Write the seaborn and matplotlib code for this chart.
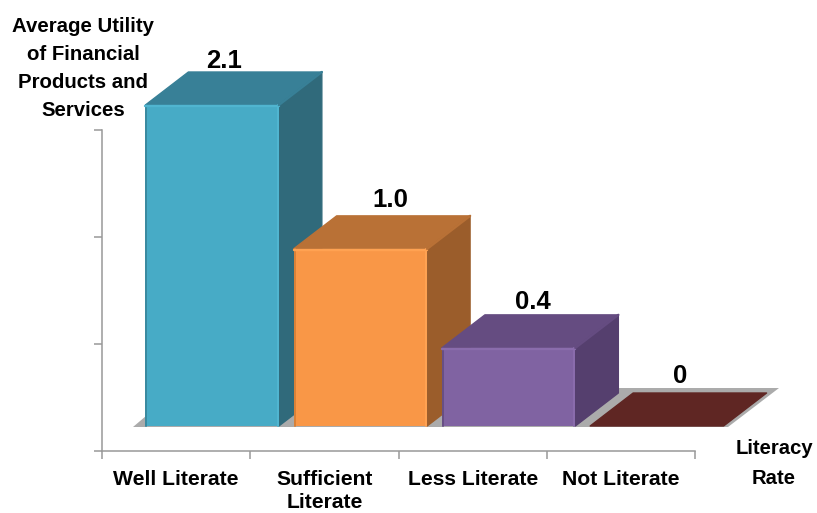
import numpy as np
import pandas as pd
import matplotlib
matplotlib.use("Agg")
import matplotlib.pyplot as plt
from matplotlib.patches import Polygon
from matplotlib.transforms import IdentityTransform
import seaborn as sns

# Chart content
categories = ["Well Literate", "Sufficient\nLiterate", "Less Literate", "Not Literate"]
utility = [2.1, 1.0, 0.4, 0.0]
value_labels = ["2.1", "1.0", "0.4", "0"]

# Face colours of each block
front_colors = ["#47ABC6", "#F99747", "#8063A2", "#5F2623"]
side_colors = ["#306A7B", "#9B5D2B", "#553F6E", "#5F2623"]
top_colors = ["#388097", "#B97136", "#654C81", "#5F2623"]
left_edge = ["#3A8AA0", "#D98138", "#674F85", "#5F2623"]
rim_colors = ["#50B5D0", "#FFA252", "#8A6CAC", "#5F2623"]

W, H = 817, 513
DEPTH_X, DEPTH_Y = 43, 33
FLOOR_DX, FLOOR_DY = 36, 25

sns.set_theme(style="white")
plt.rcParams["font.family"] = ["Liberation Sans", "DejaVu Sans"]
plt.rcParams["font.weight"] = "bold"

fig = plt.figure(figsize=(W / 100, H / 100), dpi=100)
screen = IdentityTransform()


def axes_rect(left, top, right, bottom):
    return [left / W, 1 - bottom / H, (right - left) / W, (bottom - top) / H]


# Frame carrying the grey axis lines, ticks and category names
frame = fig.add_axes(axes_rect(102, 130, 695, 451))
frame.set_xlim(0, 4)
frame.set_ylim(0, 3)
frame.set_yticks(range(4))
frame.set_yticklabels([])
frame.set_xticks(range(5))
frame.set_xticklabels([])
frame.set_xticks(np.arange(4) + 0.5, labels=categories, minor=True)
frame.tick_params(axis="both", which="major", length=6, width=1.1, color="#999999",
                  left=True, bottom=True)
frame.tick_params(axis="x", which="minor", length=0, pad=13.5, labelsize=15.2)
for label in frame.get_xticklabels(minor=True):
    label.set_linespacing(1.3)
    label.set_fontweight("bold")
    label.set_color("black")
sns.despine(ax=frame)
for side in ("left", "bottom"):
    frame.spines[side].set_color("#999999")
    frame.spines[side].set_linewidth(1.1)

# Plotting layer, moved back onto the floor of the 3D scene
bars_ax = fig.add_axes(axes_rect(102 + FLOOR_DX, 130 - FLOOR_DY, 695 + FLOOR_DX, 451 - FLOOR_DY))
table = pd.DataFrame({"category": categories, "utility": utility})
sns.barplot(data=table, x="category", y="utility", hue="category", palette=front_colors,
            width=0.9, saturation=1, legend=False, dodge=False, ax=bars_ax)
bars_ax.set_xlim(-0.5, 3.5)
bars_ax.set_yscale("function", functions=(lambda v: np.log1p(np.maximum(v, 0) / 2.5),
                                          lambda u: 2.5 * np.expm1(u)))
bars_ax.set_ylim(0, 2.1)
bars_ax.set_axis_off()


def add_face(points, color, z):
    bars_ax.add_artist(Polygon(points, closed=True, transform=screen, facecolor=color,
                               edgecolor=color, linewidth=1.0, joinstyle="round",
                               zorder=z, clip_on=False))


# Floor shadow under the row of blocks
floor_y = H - 426
bars_ax.add_artist(Polygon([(133, floor_y - 1), (728, floor_y - 1),
                            (779, floor_y + 38), (179, floor_y + 38)],
                           closed=True, transform=screen, facecolor="#ABABAB",
                           edgecolor="none", zorder=0.5, clip_on=False))

label_dx = [11.5, 30, 24.5, 23.5]
label_dy = [32, 37, 34, 38]
blocks = bars_ax.patches[:len(utility)]
for i, bar in enumerate(blocks):
    x0, x1 = bar.get_x(), bar.get_x() + bar.get_width()
    value = utility[i]
    (px0, py0), (px1, py1) = bars_ax.transData.transform([(x0, 0), (x1, value)])
    z = 2 + i
    bar.set_zorder(z + 0.2)
    bar.set_clip_on(False)
    bar.set_linewidth(0)

    # Depth faces are offset from the front face by a fixed screen distance
    top_face = [(px0, py1), (px1, py1), (px1 + DEPTH_X, py1 + DEPTH_Y), (px0 + DEPTH_X, py1 + DEPTH_Y)]
    side_face = [(px1, py0), (px1 + DEPTH_X, py0 + DEPTH_Y), (px1 + DEPTH_X, py1 + DEPTH_Y), (px1, py1)]
    add_face(top_face, top_colors[i], z)
    if value > 0:
        add_face(side_face, side_colors[i], z + 0.1)
        # Bevelled highlights along the block edges
        edges = [([px0 + 1, px0 + 1], [py0, py1], left_edge[i], 2.0),
                 ([px0, px1], [py1 - 1, py1 - 1], rim_colors[i], 2.4),
                 ([px1 - 1, px1 - 1], [py0, py1], rim_colors[i], 2.0),
                 ([px1, px1 + DEPTH_X], [py1, py1 + DEPTH_Y], top_colors[i], 2.4)]
        for xs, ys, col, lw in edges:
            bars_ax.add_artist(plt.Line2D(xs, ys, transform=screen, color=col, lw=lw * 0.72,
                                          solid_capstyle="round", zorder=z + 0.3, clip_on=False))

    bars_ax.annotate(value_labels[i], xy=((x0 + x1) / 2, value), xycoords="data",
                     xytext=(label_dx[i] * 0.72, label_dy[i] * 0.72), textcoords="offset points",
                     ha="center", va="bottom", fontsize=18.5, fontweight="bold", color="black",
                     annotation_clip=False, zorder=20)

fig.text(83.5 / W, 1 - 17 / H, "Average Utility\nof Financial\nProducts and\nServices",
         ha="center", va="top", fontsize=14.7, fontweight="bold", color="black", linespacing=1.6)
fig.text(774 / W, 1 - 439 / H, "Literacy\nRate", ha="center", va="top",
         fontsize=14.6, fontweight="bold", color="black", linespacing=1.75)

fig.savefig("out.png", dpi=100, facecolor="white")
